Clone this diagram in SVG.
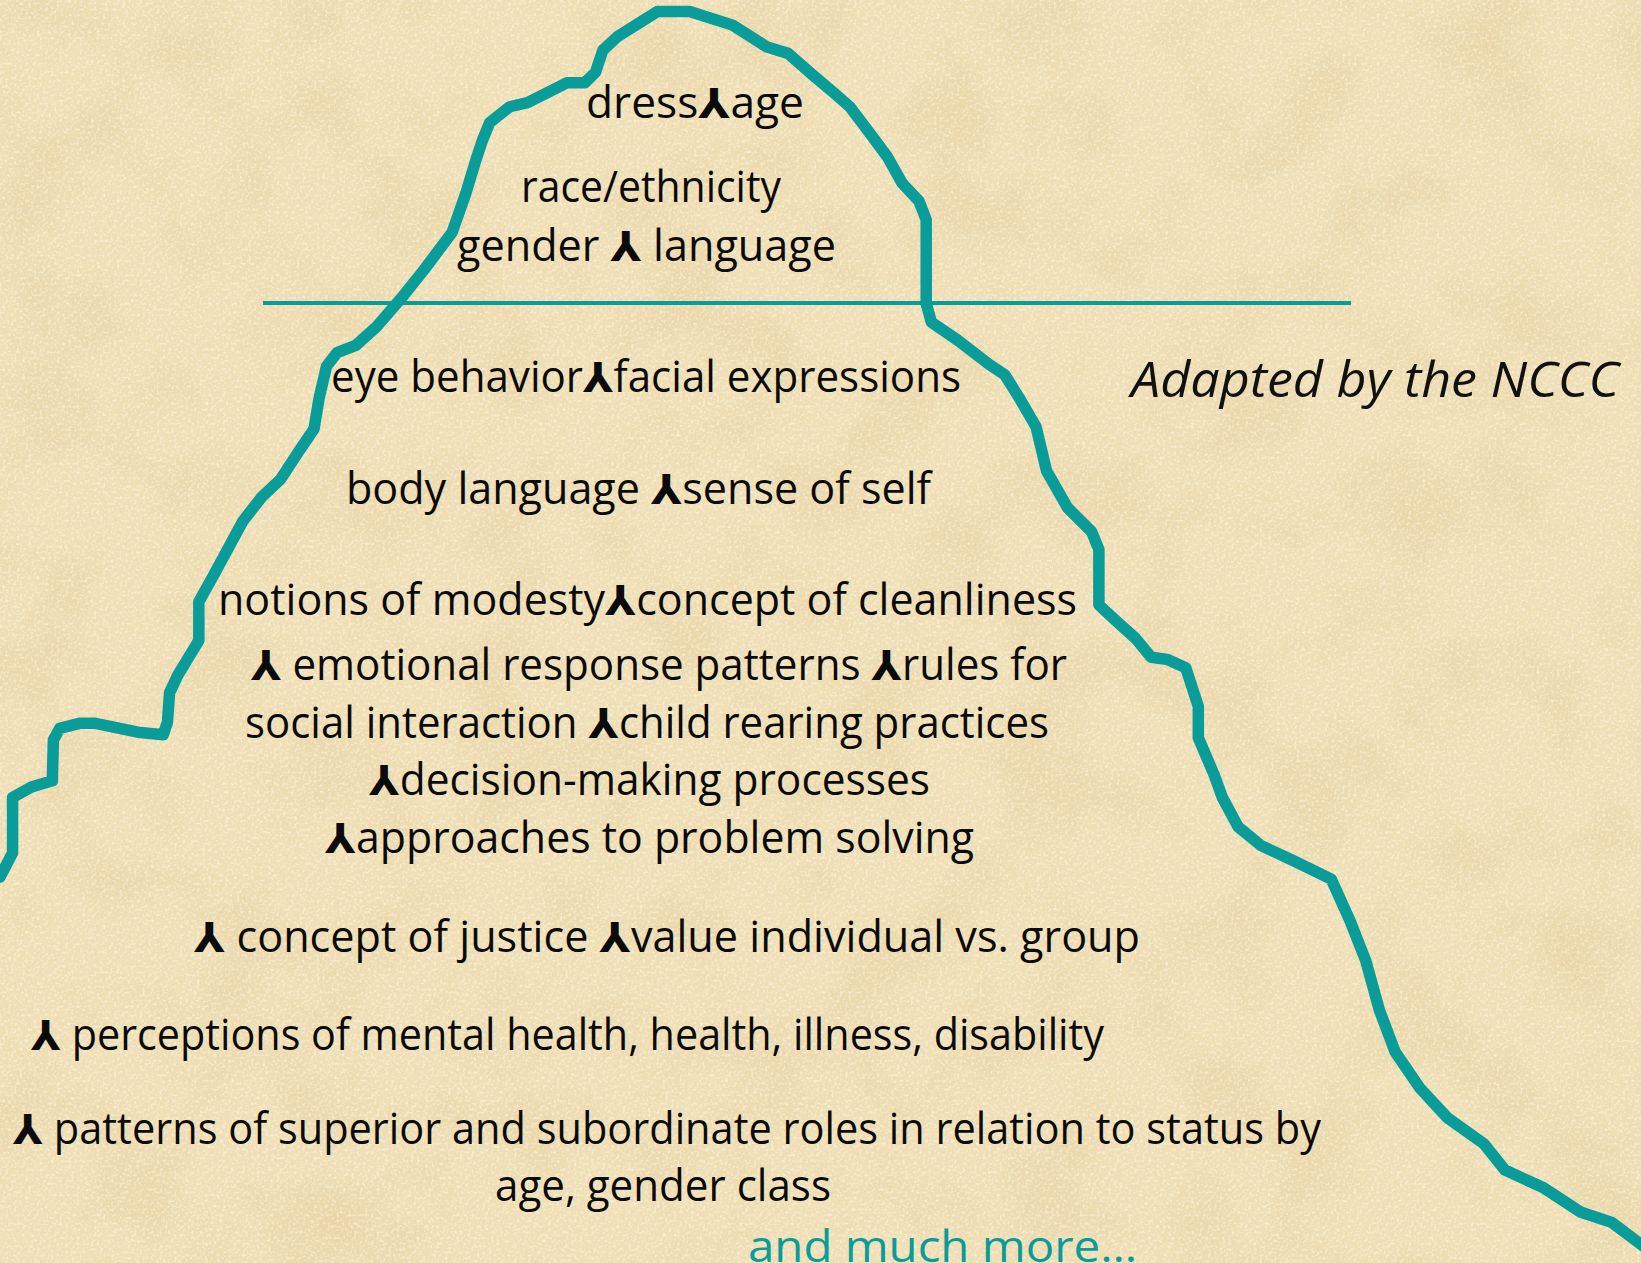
<svg xmlns="http://www.w3.org/2000/svg" width="1641" height="1263" viewBox="0 0 1641 1263">
<defs>
<style>
.t{font-family:"Open Sans","Liberation Sans",sans-serif;font-size:43px;fill:#0b0b0b;}
.s{font-family:"DejaVu Sans",sans-serif;font-weight:bold;font-size:41px;}
.teal{fill:#0a9c99;}
.it{font-family:"Open Sans","Liberation Sans",sans-serif;font-style:italic;font-size:49px;fill:#111;}
.berg{fill:none;stroke:#0a9c99;stroke-width:11;stroke-linejoin:round;stroke-linecap:round;}
.water{stroke:#0a9c99;stroke-width:4;}
</style>
<filter id="paper" x="0" y="0" width="100%" height="100%" filterUnits="userSpaceOnUse">
<feTurbulence type="fractalNoise" baseFrequency="0.011" numOctaves="5" seed="7" result="n"/>
<feColorMatrix in="n" type="matrix" values="0 0 0 0 0.80  0 0 0 0 0.64  0 0 0 0 0.36  1.5 0 0 0 -0.62"/>
</filter>
<filter id="grain" x="0" y="0" width="100%" height="100%" filterUnits="userSpaceOnUse">
<feTurbulence type="fractalNoise" baseFrequency="0.35" numOctaves="2" seed="2" result="g"/>
<feColorMatrix in="g" type="matrix" values="0 0 0 0 1  0 0 0 0 0.97  0 0 0 0 0.88  1.6 0 0 0 -0.75"/>
</filter>
</defs>
<g id="background">
<rect width="1641" height="1263" fill="#efdfb6"/>
<rect width="1641" height="1263" filter="url(#paper)"/>
<rect width="1641" height="1263" filter="url(#grain)"/>
</g>
<g id="connectors">
<g id="iceberg" transform="scale(1.04656)">
<path class="berg" d="M0,838 L12,815 L12,762 L30,752 L50,746 L51,707 L57,696 L77,691 L90,691 L134,700 L156,702 L160,690 L162,662 L170,645 L190,612 L190,575 L205,548 L232,498 L250,475 L268,458 L285,432 L300,410 L305,380 L312,350 L322,337 L340,330 L360,312 L385,283 L405,258 L432,222 L445,185 L455,152 L461,134 L468,117 L487,102 L504,98 L542,79 L559,79 L569,69 L576,48 L590,35 L628,11 L659,11 L700,24 L733,45 L753,51 L777,72 L796,88 L812,102 L831,127 L848,150 L862,175 L878,192 L885,210 L885,290 L890,308 L915,325 L945,348 L960,358 L975,382 L990,408 L1000,450 L1020,485 L1043,508 L1050,525 L1050,578 L1065,592 L1085,610 L1100,628 L1115,630 L1133,638 L1145,675 L1145,705 L1160,740 L1168,762 L1183,790 L1205,808 L1235,822 L1272,840 L1290,880 L1305,918 L1318,965 L1333,1005 L1357,1040 L1383,1068 L1418,1093 L1438,1118 L1475,1135 L1510,1158 L1540,1168 L1572,1192"/>
</g>
<line id="waterline" class="water" x1="263" y1="303" x2="1351" y2="303"/>
</g>
<g id="above-water">
<text class="t" x="586" y="118" textLength="218" lengthAdjust="spacingAndGlyphs">dress<tspan class="s">⅄</tspan>age</text>
<text class="t" x="521" y="202" textLength="260" lengthAdjust="spacingAndGlyphs">race/ethnicity</text>
<text class="t" x="457" y="261" textLength="379" lengthAdjust="spacingAndGlyphs">gender <tspan class="s">⅄</tspan> language</text>
</g>
<g id="below-water">
<text class="t" x="331" y="392" textLength="630" lengthAdjust="spacingAndGlyphs">eye behavior<tspan class="s">⅄</tspan>facial expressions</text>
<text class="t" x="346" y="504" textLength="585" lengthAdjust="spacingAndGlyphs">body language <tspan class="s">⅄</tspan>sense of self</text>
<text class="t" x="218" y="615" textLength="859" lengthAdjust="spacingAndGlyphs">notions of modesty<tspan class="s">⅄</tspan>concept of cleanliness</text>
<text class="t" x="251" y="680" textLength="816" lengthAdjust="spacingAndGlyphs"><tspan class="s">⅄</tspan> emotional response patterns <tspan class="s">⅄</tspan>rules for</text>
<text class="t" x="245" y="738" textLength="804" lengthAdjust="spacingAndGlyphs">social interaction <tspan class="s">⅄</tspan>child rearing practices</text>
<text class="t" x="369" y="795" textLength="561" lengthAdjust="spacingAndGlyphs"><tspan class="s">⅄</tspan>decision-making processes</text>
<text class="t" x="325" y="853" textLength="649" lengthAdjust="spacingAndGlyphs"><tspan class="s">⅄</tspan>approaches to problem solving</text>
<text class="t" x="194" y="952" textLength="946" lengthAdjust="spacingAndGlyphs"><tspan class="s">⅄</tspan> concept of justice <tspan class="s">⅄</tspan>value individual vs. group</text>
<text class="t" x="31" y="1050" textLength="1073" lengthAdjust="spacingAndGlyphs"><tspan class="s">⅄</tspan> perceptions of mental health, health, illness, disability</text>
<text class="t" x="13" y="1144" textLength="1308" lengthAdjust="spacingAndGlyphs"><tspan class="s">⅄</tspan> patterns of superior and subordinate roles in relation to status by</text>
<text class="t" x="495" y="1201" textLength="336" lengthAdjust="spacingAndGlyphs">age, gender class</text>
<text class="t teal" x="748" y="1262" textLength="389" lengthAdjust="spacingAndGlyphs">and much more…</text>
</g>
<g id="credit">
<text class="it" x="1131" y="397" textLength="488" lengthAdjust="spacingAndGlyphs">Adapted by the NCCC</text>
</g>
</svg>
